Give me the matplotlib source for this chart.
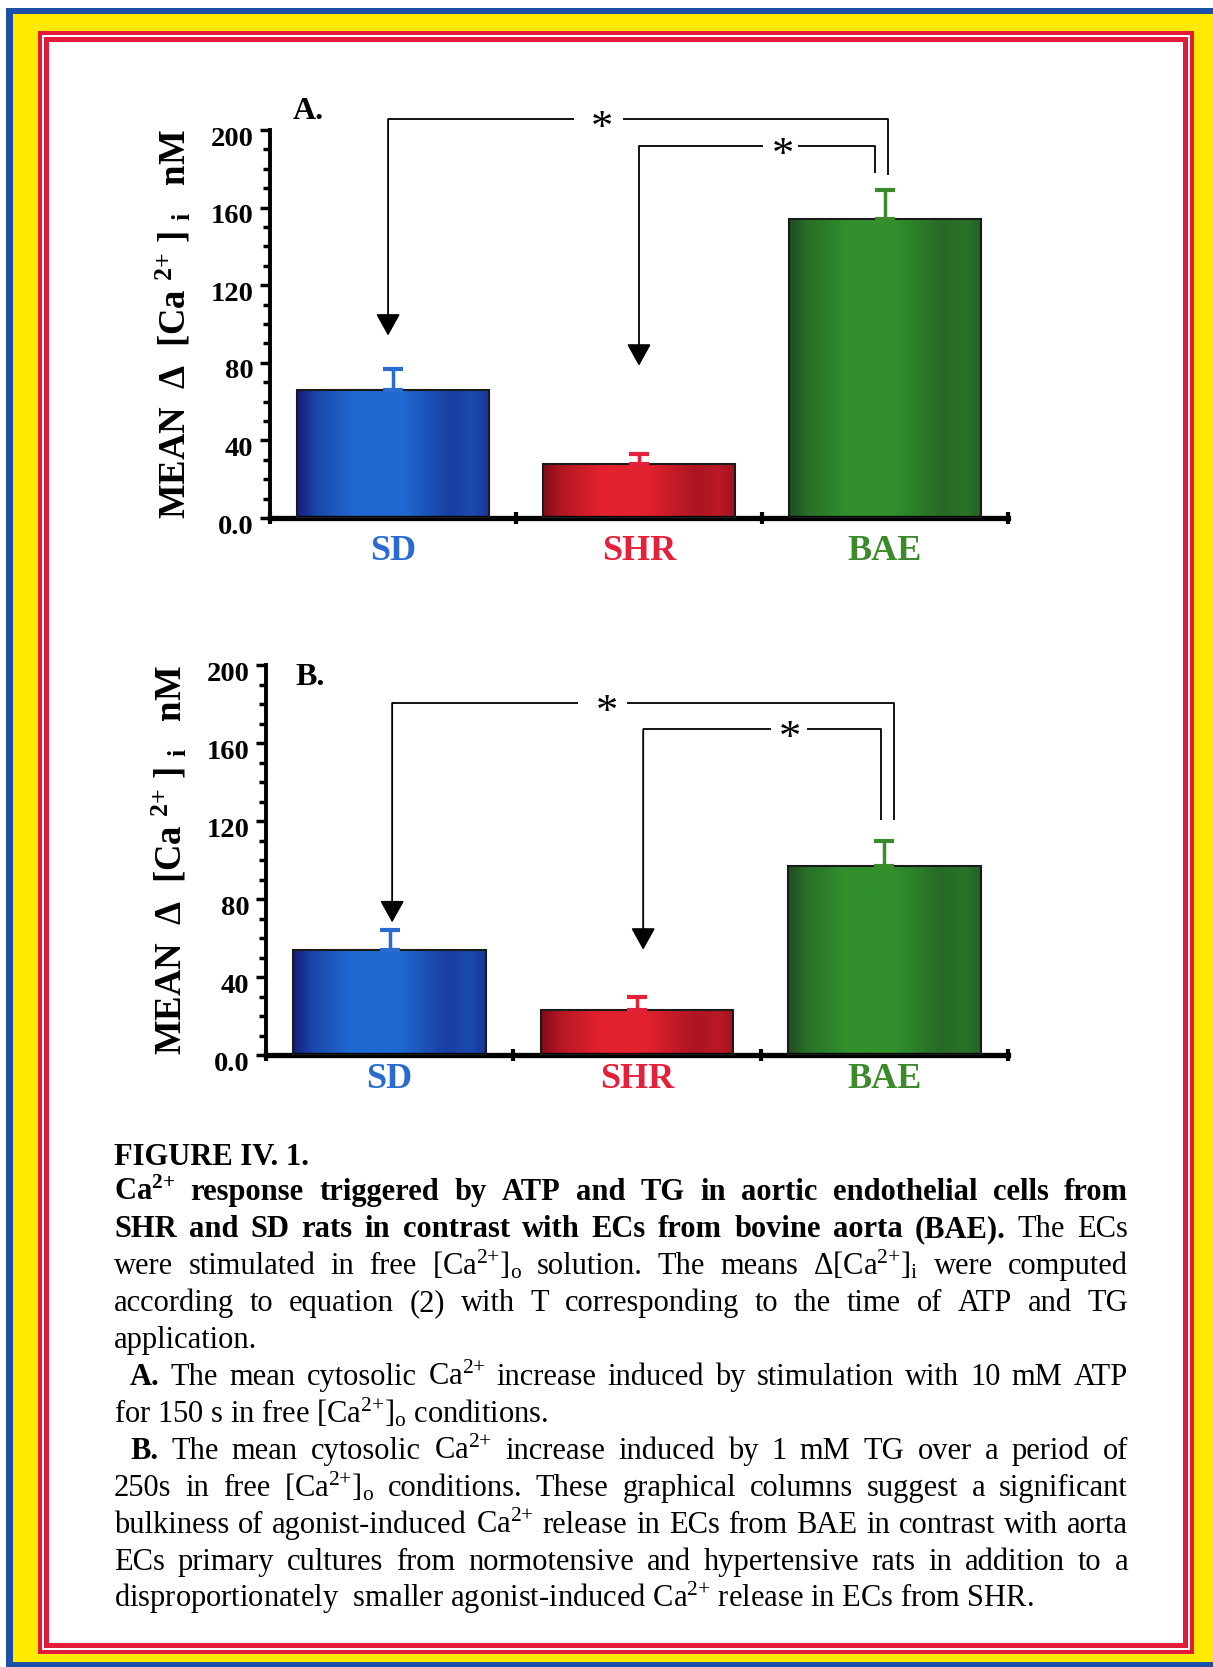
import matplotlib
matplotlib.use("Agg")
import numpy as np
import matplotlib.pyplot as plt
from matplotlib.patches import Rectangle
from matplotlib.ticker import MultipleLocator
from matplotlib.transforms import ScaledTranslation
from matplotlib.colors import to_rgb

# data
groups = ["SD", "SHR", "BAE"]
atp_mean = [66, 28, 154]      # panel A, 10 mM ATP
atp_sem = [11, 5, 15]
tg_mean = [54, 23, 97]        # panel B, 1 mM TG
tg_sem = [10, 7, 13]
ytick_vals = [0, 40, 80, 120, 160, 200]
ytick_labels = ["0.0", "40", "80", "120", "160", "200"]

W, H = 1213, 1667

plt.rcParams['font.family'] = ['Liberation Serif', 'DejaVu Serif']
plt.rcParams['mathtext.fontset'] = 'custom'
plt.rcParams['mathtext.rm'] = 'Liberation Serif'
plt.rcParams['mathtext.it'] = 'Liberation Serif:italic'
plt.rcParams['mathtext.bf'] = 'Liberation Serif:bold'

label_colors = ['#2a6bd0', '#e4203a', '#3b8a2c']
bar_dark = ['#151a78', '#7e0a18', '#1d4a22']
bar_light = ['#1f6ad2', '#e2222e', '#31902c']

fig = plt.figure(figsize=(W / 100, H / 100), dpi=100)


def px_rect(x0, y0, x1, y1, color, z):
    fig.add_artist(Rectangle((x0 / W, 1 - y1 / H), (x1 - x0) / W, (y1 - y0) / H,
                             transform=fig.transFigure, facecolor=color,
                             edgecolor='none', zorder=z))


# page frame: blue / yellow / double red
px_rect(6, 8, W + 5, H + 5, '#1c4fa6', -10)
px_rect(13, 14, W + 5, 1662, '#ffea00', -9)
px_rect(38, 31, 1194, 1654, '#e21b3a', -8)
px_rect(42, 35, 1190, 1650, 'white', -7)
px_rect(44, 37, 1188, 1648, '#e21b3a', -6)
px_rect(49, 42, 1183, 1643, 'white', -5)

ylabel = r'MEAN  Δ  [Ca $^{\mathbf{2{+}}}$ ] $_{\mathbf{i}}$   nM'
STAR_FS = 32


def draw_panel(ax, means, sems, letter, letter_pos, br, xpad):
    x = np.arange(len(groups))
    bars = ax.bar(x, means, width=0.78, facecolor='none', edgecolor='#1a1a1a',
                  linewidth=1.5, zorder=3)
    t = np.linspace(0, 1, 200)
    mix = np.interp(t, [0, .1, .3, .55, .8, .92, 1], [0.05, .55, 1, 1, .45, .6, .35])
    for i, b in enumerate(bars):
        dark = np.array(to_rgb(bar_dark[i]))
        light = np.array(to_rgb(bar_light[i]))
        rgb = dark[None, :] * (1 - mix[:, None]) + light[None, :] * mix[:, None]
        x0, w, h = b.get_x(), b.get_width(), b.get_height()
        ax.imshow(rgb[None, :, :], extent=(x0, x0 + w, 0, h), aspect='auto',
                  zorder=2, interpolation='bilinear')
        ax.errorbar(x[i], means[i], yerr=[[0], [sems[i]]], fmt='none',
                    ecolor=label_colors[i], elinewidth=2.5, capsize=7,
                    capthick=3, zorder=4)

    ax.set_xlim(-0.5, 2.5)
    ax.set_ylim(0, 200)
    ax.patch.set_facecolor('none')
    for s in ['top', 'right']:
        ax.spines[s].set_visible(False)
    ax.spines['left'].set_linewidth(2.8)
    ax.spines['bottom'].set_linewidth(3.8)

    ax.set_yticks(ytick_vals, ytick_labels)
    ax.yaxis.set_minor_locator(MultipleLocator(10))
    ax.tick_params(axis='y', which='major', direction='out', length=7, width=2.5,
                   labelsize=20.5, pad=5)
    ax.tick_params(axis='y', which='minor', direction='out', length=5, width=2.5)
    for lbl in ax.get_yticklabels():
        lbl.set_fontweight('bold')
        lbl.set_transform(lbl.get_transform() + ScaledTranslation(0, -0.06, fig.dpi_scale_trans))

    ax.set_xticks(x, groups)
    ax.set_xticks([-0.5, 0.5, 1.5, 2.5], minor=True)
    ax.tick_params(axis='x', which='major', length=0, labelsize=26, pad=xpad)
    ax.tick_params(axis='x', which='minor', direction='inout', length=9, width=3)
    for lbl, c in zip(ax.get_xticklabels(), label_colors):
        lbl.set_color(c)
        lbl.set_fontweight('bold')

    ax.set_ylabel(ylabel, fontsize=26.5, fontweight='bold', labelpad=12)
    ax.text(letter_pos[0], letter_pos[1], letter, transform=ax.transAxes,
            fontsize=23, fontweight='bold', va='baseline')

    # significance brackets with arrows
    lw = 1.3
    kw = dict(color='k', lw=lw, clip_on=False, solid_capstyle='butt')
    for (x_from, y_line, x_to, y_drop, tip, star, gap) in [
            (br['sd_x'], br['outer_y'], br['outer_x'], br['outer_drop'], br['sd_tip'], br['star1'], br['gap1']),
            (br['shr_x'], br['inner_y'], br['inner_x'], br['inner_drop'], br['shr_tip'], br['star2'], br['gap2'])]:
        ax.plot([x_from, gap[0]], [y_line, y_line], **kw)
        ax.plot([gap[1], x_to, x_to], [y_line, y_line, y_drop], **kw)
        ax.annotate('', xy=(x_from, tip), xytext=(x_from, y_line),
                    arrowprops=dict(arrowstyle='-|>,head_length=0.9,head_width=0.5',
                                    color='k', lw=lw, shrinkA=0, shrinkB=0,
                                    mutation_scale=15),
                    annotation_clip=False)
        ax.annotate('*', xy=(star, y_line), xytext=(0, -0.47 * STAR_FS),
                    textcoords='offset points', fontsize=STAR_FS,
                    ha='center', va='baseline', annotation_clip=False)


axA = fig.add_axes([270 / W, 1 - 518 / H, 738 / W, 388 / H])
draw_panel(axA, atp_mean, atp_sem, 'A.', (0.031, 1.028),
           dict(outer_y=205.6, inner_y=191.8, outer_drop=177, inner_drop=178,
                sd_tip=94, shr_tip=78.5, sd_x=-0.02, outer_x=2.014, shr_x=1.0,
                inner_x=1.961, star1=0.85, gap1=(0.734, 0.933), star2=1.587,
                gap2=(1.506, 1.648)), 12)

axB = fig.add_axes([266 / W, 1 - 1055 / H, 742 / W, 390 / H])
draw_panel(axB, tg_mean, tg_sem, 'B.', (0.04, 0.949),
           dict(outer_y=180.5, inner_y=167, outer_drop=120.5, inner_drop=120.5,
                sd_tip=68, shr_tip=54, sd_x=0.01, outer_x=2.04, shr_x=1.025,
                inner_x=1.986, star1=0.877, gap1=(0.763, 0.961), star2=1.617,
                gap2=(1.54, 1.686)), 6)

# caption, justified word by word
caption = [
    ([(r"FIGURE IV. 1.", 'bold')], False, False),
    ([(r"Ca$^{\mathbf{2{+}}}$ response triggered by ATP and TG in aortic endothelial cells from", 'bold')], True, False),
    ([(r"SHR and SD rats in contrast with ECs from bovine aorta (BAE).", 'bold'), (r"The ECs", 'normal')], True, False),
    ([(r"were stimulated in free [Ca$^{2{+}}$]$_\mathrm{o}$ solution. The means Δ[Ca$^{2{+}}$]$_\mathrm{i}$ were computed", 'normal')], True, False),
    ([(r"according to equation (2) with T corresponding to the time of ATP and TG", 'normal')], True, False),
    ([(r"application.", 'normal')], False, False),
    ([(r"A.", 'bold'), (r"The mean cytosolic Ca$^{2{+}}$ increase induced by stimulation with 10 mM ATP", 'normal')], True, True),
    ([(r"for 150 s in free [Ca$^{2{+}}$]$_\mathrm{o}$ conditions.", 'normal')], False, False),
    ([(r"B.", 'bold'), (r"The mean cytosolic Ca$^{2{+}}$ increase induced by 1 mM TG over a period of", 'normal')], True, True),
    ([(r"250s in free [Ca$^{2{+}}$]$_\mathrm{o}$ conditions.  These graphical columns suggest a significant", 'normal')], True, False),
    ([(r"bulkiness of agonist-induced Ca$^{2{+}}$ release in ECs from BAE in contrast with aorta", 'normal')], True, False),
    ([(r"ECs primary cultures from normotensive and hypertensive rats in addition to a", 'normal')], True, False),
    ([(r"disproportionately  smaller agonist-induced Ca$^{2{+}}$ release in ECs from SHR.", 'normal')], False, False),
]

FS = 22
left_px, right_px, indent_px = 114, 1128, 16
renderer = fig.canvas.get_renderer()
space_px = FS * 0.25 * 100 / 72
for i, (segs, justify, indent) in enumerate(caption):
    base_px = 1165 if i == 0 else 1200 + 37 * (i - 1)
    yb = 1 - base_px / H
    x = left_px + (indent_px if indent else 0)
    if justify:
        words = [(w, wt) for s, wt in segs for w in s.split()]
    else:
        words = segs
    texts = [fig.text(0, yb, w, fontsize=FS, fontweight=wt, va='baseline', ha='left')
             for w, wt in words]
    widths = [t.get_window_extent(renderer).width for t in texts]
    gap = (right_px - x - sum(widths)) / (len(texts) - 1) if justify else space_px
    for t, wd in zip(texts, widths):
        t.set_x(x / W)
        x += wd + gap

fig.savefig("out.png", dpi=100)
